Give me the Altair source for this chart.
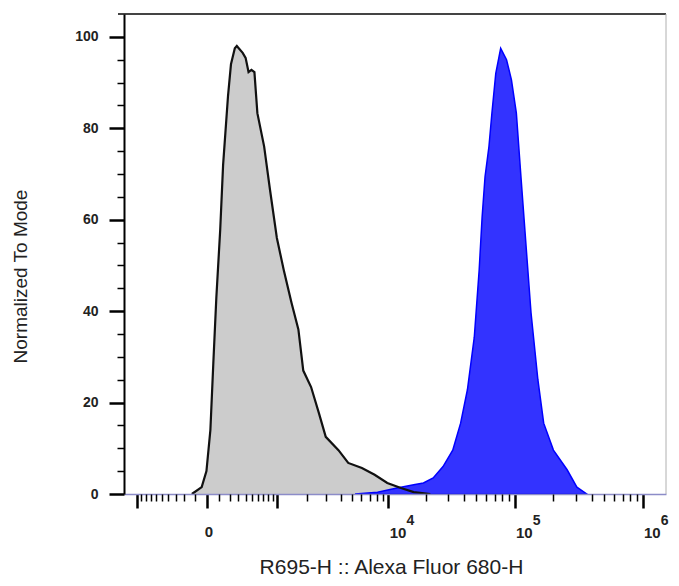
import altair as alt
import pandas as pd

# Control (grey, unstained) histogram: fluorescence value, % of mode
gray_x = [-125, -40, -4, 25, 48, 73, 107, 134, 183, 215, 259, 283, 359, 400, 443, 488, 537,
          588, 716, 840, 1002, 1186, 1425, 1663, 1852, 2191, 2582, 2972, 3836, 4648, 6053,
          7707, 9780, 12600, 15960, 21630]
gray_y = [0, 1.5, 5, 14, 28.6, 43, 57.8, 72, 87, 94, 97.5, 98, 96.5, 95.4, 92.3, 92.8, 92.3,
          83.3, 76, 66.5, 56, 49, 41.8, 36, 27, 23.4, 17.7, 12.5, 9.6, 6.8, 5.7,
          4.2, 2.4, 1.3, 0.4, 0]

# Stained sample (blue) histogram
blue_x = [5307, 8141, 11720, 15960, 19070, 22800, 27280, 32560, 37560, 42480, 48120, 52560,
          55440, 58440, 62720, 66160, 70960, 77520, 86160, 94120, 102840, 112200, 122680,
          134000, 151560, 168240, 200400, 256400, 305600, 364800]
blue_y = [0, 0.4, 1.3, 2, 2.4, 3.5, 6, 9.6, 15.5, 22.8, 34.3, 49,
          60.6, 69.4, 76, 83.3, 92, 97.5, 95, 90.6, 83.3, 68.7, 54,
          39.6, 25, 15.5, 9.6, 5.3, 1.5, 0]

x_major = [-1000, 0, 1000, 10000, 100000, 1000000]
x_minor = ([-v for v in range(100, 1000, 100)] + list(range(100, 1000, 100))
           + list(range(2000, 10000, 1000)) + list(range(20000, 100000, 10000))
           + list(range(200000, 1000000, 100000)))
zero_value = [0]
zero_text = ["0"]
sup_values = [10000, 100000, 1000000]
sup_text = ["4", "5", "6"]
y_major = [0, 20, 40, 60, 80, 100]
y_minor = [v for v in range(5, 105, 5) if v % 20 != 0]

W, H = 542, 480
FONT = "Liberation Sans"

gray = pd.DataFrame({"v": gray_x, "pct": gray_y})
blue = pd.DataFrame({"v": blue_x, "pct": blue_y})
sups = pd.DataFrame({"v": sup_values, "t": sup_text})
zero = pd.DataFrame({"v": zero_value, "t": zero_text})

xscale = alt.Scale(type="symlog", constant=400, domain=[-1375, 1515000], nice=False)
yscale = alt.Scale(domain=[0, 105], nice=False)

x_axis_major = alt.Axis(
    orient="bottom", values=x_major, tickSize=14, tickWidth=2.5, tickColor="black",
    labelExpr="datum.value >= 10000 ? '10' : ''",
    labelFont=FONT, labelFontSize=15, labelFontWeight="bold", labelColor="#222",
    labelPadding=17, labelOffset=9, labelFlush=False, labelOverlap=False,
    domainColor="#8c8cc8", domainWidth=1.5, grid=False,
    title="R695-H :: Alexa Fluor 680-H", titleFont=FONT, titleFontSize=21,
    titleFontWeight="normal", titleColor="#222", titleX=267, titleY=79,
    titleAlign="center", titleBaseline="alphabetic", zindex=1,
)
x_axis_minor = alt.Axis(
    orient="bottom", values=x_minor, tickSize=7, tickWidth=1.5, tickColor="black",
    labels=False, domain=False, grid=False, title=None, zindex=1,
)
y_axis_major = alt.Axis(
    orient="left", values=y_major, tickSize=15, tickWidth=2.5, tickColor="black",
    labelFont=FONT, labelFontSize=14, labelFontWeight="bold", labelColor="#222",
    labelPadding=11, domainColor="black", domainWidth=2, grid=False,
    title="Normalized To Mode", titleFont=FONT, titleFontSize=19,
    titleFontWeight="normal", titleColor="#222", titleAngle=-90, titleX=-98, titleY=262,
    titleAlign="center", titleBaseline="alphabetic", zindex=1,
)
y_axis_minor = alt.Axis(
    orient="left", values=y_minor, tickSize=7, tickWidth=1.5, tickColor="black",
    labels=False, domain=False, grid=False, title=None, zindex=1,
)

gray_area = alt.Chart(gray).mark_area(color="#cccccc", opacity=1).encode(
    x=alt.X("v:Q", scale=xscale, axis=x_axis_major),
    y=alt.Y("pct:Q", scale=yscale, axis=y_axis_major),
)
blue_area = alt.Chart(blue).mark_area(
    color="#3333ff", opacity=1, stroke="#0000ff", strokeWidth=1.5
).encode(
    x=alt.X("v:Q", scale=xscale, axis=x_axis_minor),
    y=alt.Y("pct:Q", scale=yscale, axis=y_axis_minor),
)
gray_line = alt.Chart(gray).mark_line(color="#111111", strokeWidth=2.2).encode(
    x=alt.X("v:Q", scale=xscale, axis=None),
    y=alt.Y("pct:Q", scale=yscale, axis=None),
)
sup_layer = alt.Chart(sups).mark_text(
    font=FONT, fontSize=14, fontWeight="bold", color="#222", align="left",
    baseline="middle", dx=18
).encode(
    x=alt.X("v:Q", scale=xscale, axis=None),
    y=alt.value(H + 27),
    text="t:N",
)
zero_layer = alt.Chart(zero).mark_text(
    font=FONT, fontSize=15, fontWeight="bold", color="#222", align="center",
    baseline="middle", dx=2
).encode(
    x=alt.X("v:Q", scale=xscale, axis=None),
    y=alt.value(H + 38),
    text="t:N",
)
frame_df = pd.DataFrame({"a": [0]})
top_rule = alt.Chart(frame_df).mark_rule(color="#444444", strokeWidth=2).encode(
    x=alt.value(-6), x2=alt.value(W), y=alt.value(0)
)
right_rule = alt.Chart(frame_df).mark_rule(color="#b0b0b0", strokeWidth=1).encode(
    x=alt.value(W), y=alt.value(0), y2=alt.value(H)
)

chart = alt.layer(
    gray_area, blue_area, gray_line, sup_layer, zero_layer, top_rule, right_rule
).resolve_axis(x="independent", y="independent").properties(
    width=W, height=H,
    autosize=alt.AutoSizeParams(type="none"),
    padding={"left": 116, "top": 6, "right": 5, "bottom": 84},
    background="white",
).configure_view(stroke=None)

chart.save("out.html", embed_options={"renderer": "svg", "actions": False})
